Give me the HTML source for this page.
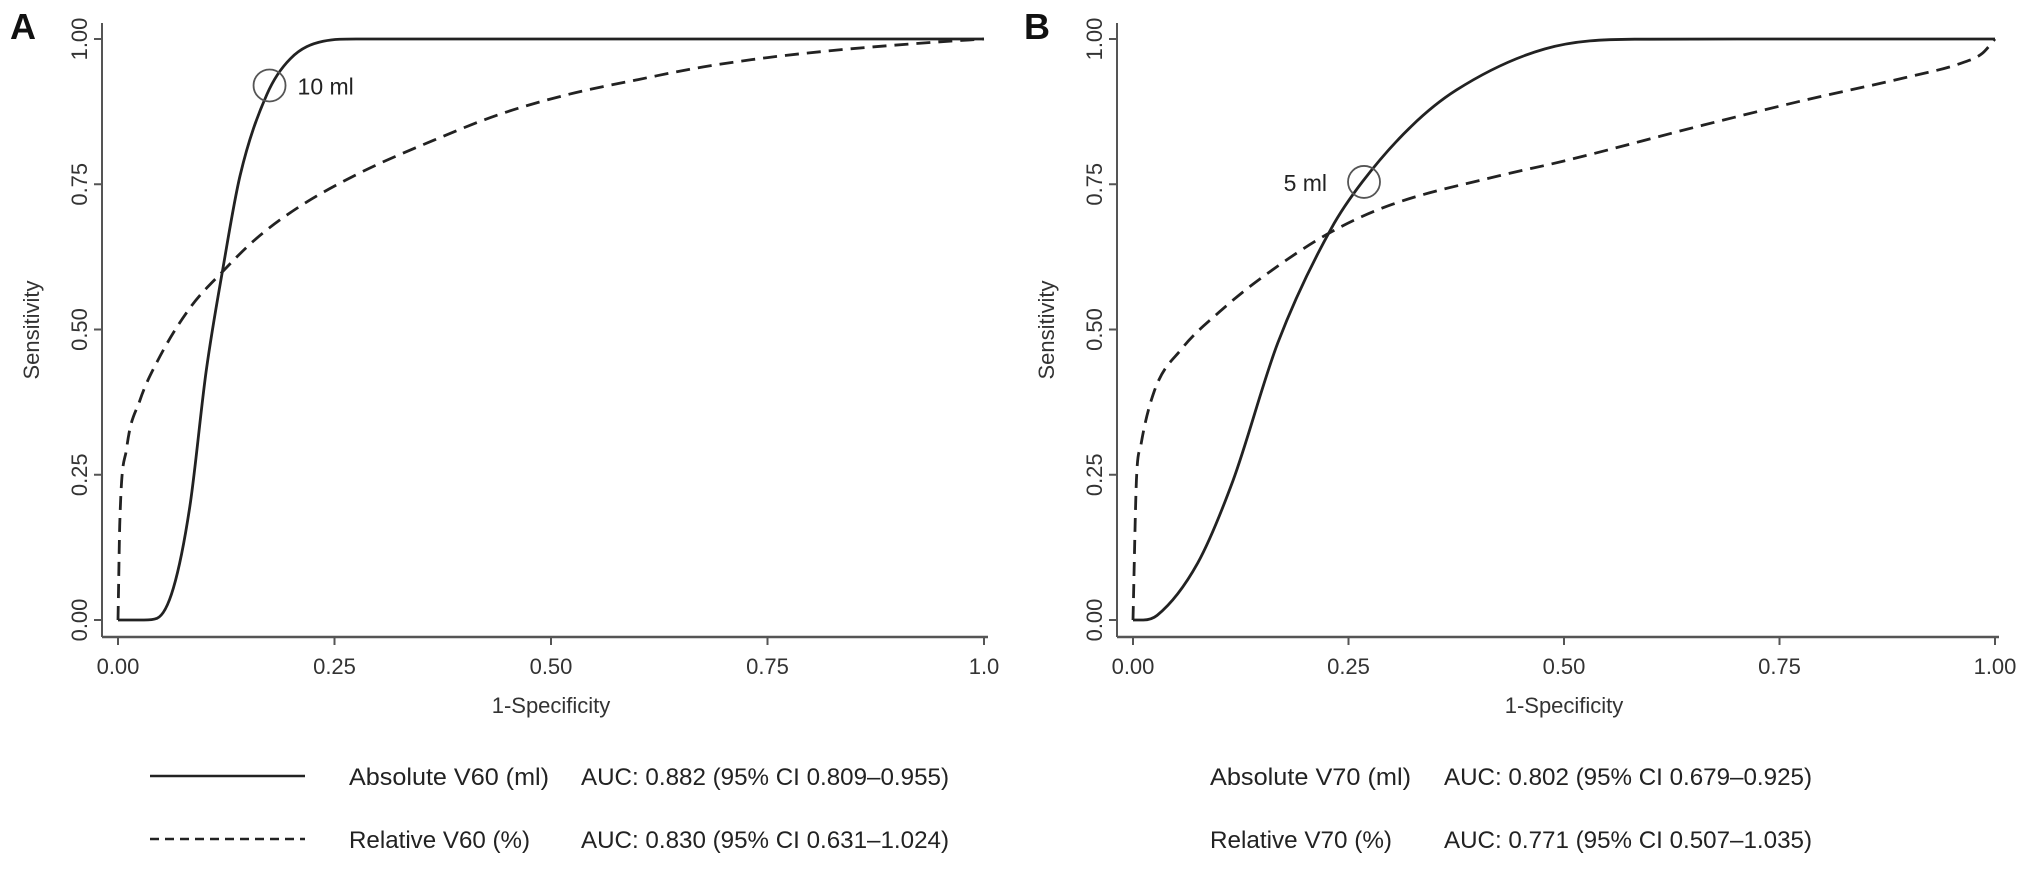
<!DOCTYPE html>
<html><head><meta charset="utf-8"><style>
html,body{margin:0;padding:0;background:#fff;}
svg{display:block;font-family:"Liberation Sans",Arial,sans-serif;}
</style></head><body>
<svg id="chart" width="2031" height="870" viewBox="0 0 2031 870" xmlns="http://www.w3.org/2000/svg">
<text x="10" y="39" font-size="36" font-weight="bold" fill="#111">A</text>
<text x="1024" y="39" font-size="36" font-weight="bold" fill="#111">B</text>
<g id="panelA"></g>
<g id="panelB"></g>
<g>
<line x1="150" y1="776" x2="305" y2="776" stroke="#222" stroke-width="2.5"/>
<line x1="150" y1="839" x2="305" y2="839" stroke="#222" stroke-width="2.5" stroke-dasharray="9,6"/>
<text x="349" y="785" font-size="24" fill="#222" textLength="200" lengthAdjust="spacingAndGlyphs">Absolute V60 (ml)</text>
<text x="581" y="785" font-size="24" fill="#222" textLength="368" lengthAdjust="spacingAndGlyphs">AUC: 0.882 (95% CI 0.809–0.955)</text>
<text x="349" y="848" font-size="24" fill="#222" textLength="181" lengthAdjust="spacingAndGlyphs">Relative V60 (%)</text>
<text x="581" y="848" font-size="24" fill="#222" textLength="368" lengthAdjust="spacingAndGlyphs">AUC: 0.830 (95% CI 0.631–1.024)</text>
</g>
<g>
<text x="1210" y="785" font-size="24" fill="#222" textLength="201" lengthAdjust="spacingAndGlyphs">Absolute V70 (ml)</text>
<text x="1444" y="785" font-size="24" fill="#222" textLength="368" lengthAdjust="spacingAndGlyphs">AUC: 0.802 (95% CI 0.679–0.925)</text>
<text x="1210" y="848" font-size="24" fill="#222" textLength="182" lengthAdjust="spacingAndGlyphs">Relative V70 (%)</text>
<text x="1444" y="848" font-size="24" fill="#222" textLength="368" lengthAdjust="spacingAndGlyphs">AUC: 0.771 (95% CI 0.507–1.035)</text>
</g>
</svg>
<script>
const xTicks = [0, 0.25, 0.5, 0.75, 1];
const xTickLabelsA = ["0.00", "0.25", "0.50", "0.75", "1.0"];
const xTickLabelsB = ["0.00", "0.25", "0.50", "0.75", "1.00"];
const yTicks = [0, 0.25, 0.5, 0.75, 1];
const yTickLabels = ["0.00", "0.25", "0.50", "0.75", "1.00"];
const absA_x = [0, 0.03, 0.045, 0.064, 0.083, 0.102, 0.121, 0.141, 0.172, 0.199, 0.237, 0.275, 0.5, 1];
const absA_y = [0, 0, 0.003, 0.055, 0.196, 0.43, 0.604, 0.765, 0.905, 0.966, 0.996, 1, 1, 1];
const relA_x = [0, 0.002, 0.01, 0.025, 0.045, 0.083, 0.121, 0.16, 0.21, 0.28, 0.365, 0.44, 0.521, 0.6, 0.676, 0.75, 0.831, 0.92, 1];
const relA_y = [0, 0.162, 0.296, 0.377, 0.444, 0.537, 0.6, 0.657, 0.712, 0.77, 0.826, 0.87, 0.905, 0.93, 0.952, 0.968, 0.981, 0.992, 1];
const absB_x = [0, 0.012, 0.028, 0.075, 0.116, 0.168, 0.23, 0.266, 0.323, 0.375, 0.478, 0.582, 0.7, 1];
const absB_y = [0, 0, 0.008, 0.098, 0.24, 0.477, 0.674, 0.754, 0.85, 0.912, 0.983, 0.9996, 1, 1];
const relB_x = [0, 0.004, 0.009, 0.025, 0.056, 0.1, 0.15, 0.23, 0.3, 0.426, 0.5, 0.662, 0.78, 0.9, 0.96, 0.985, 1];
const relB_y = [0, 0.24, 0.30, 0.395, 0.466, 0.53, 0.59, 0.668, 0.715, 0.765, 0.79, 0.852, 0.895, 0.935, 0.958, 0.975, 1];
const cutA = [0.175, 0.92];
const cutB = [0.268, 0.754];

const NS = "http://www.w3.org/2000/svg";
function mk(parent, tag, attrs) {
  const e = document.createElementNS(NS, tag);
  for (const k in attrs) e.setAttribute(k, attrs[k]);
  parent.appendChild(e);
  return e;
}
function smoothPath(px, py) {
  const n = px.length;
  const d = [], m = new Array(n).fill(0);
  for (let i = 0; i < n - 1; i++) d.push((py[i+1] - py[i]) / ((px[i+1] - px[i]) || 1e-9));
  m[0] = d[0]; m[n-1] = d[n-2];
  for (let i = 1; i < n - 1; i++) m[i] = (d[i-1] * d[i] <= 0) ? 0 : (d[i-1] + d[i]) / 2;
  for (let i = 0; i < n - 1; i++) {
    if (d[i] === 0) { m[i] = 0; m[i+1] = 0; continue; }
    const a = m[i] / d[i], b = m[i+1] / d[i], s = a*a + b*b;
    if (s > 9) { const t = 3 / Math.sqrt(s); m[i] = t*a*d[i]; m[i+1] = t*b*d[i]; }
  }
  let p = "M" + px[0].toFixed(1) + "," + py[0].toFixed(1);
  for (let i = 0; i < n - 1; i++) {
    const h = (px[i+1] - px[i]) / 3;
    p += "C" + (px[i]+h).toFixed(1) + "," + (py[i]+m[i]*h).toFixed(1) + " " +
         (px[i+1]-h).toFixed(1) + "," + (py[i+1]-m[i+1]*h).toFixed(1) + " " +
         px[i+1].toFixed(1) + "," + py[i+1].toFixed(1);
  }
  return p;
}
function drawPanel(g, x0, unitX, ticksLab, abs_x, abs_y, rel_x, rel_y, cut, cutLabel, labelLeft) {
  const y0 = 620, unitY = 581, axisY = 637, axisX = x0 - 16;
  const sx = v => x0 + v * unitX;
  const sy = v => y0 - v * unitY;
  let e;
  e = mk(g, "line", {x1: axisX, y1: 23, x2: axisX, y2: axisY, stroke: "#555", "stroke-width": 2});
  
  
  e = mk(g, "line", {x1: axisX, y1: axisY, x2: sx(1) + 4, y2: axisY, stroke: "#555", "stroke-width": 2.5});
  
  
  xTicks.forEach((v, i) => {
    const t = mk(g, "line", {x1: sx(v), y1: axisY, x2: sx(v), y2: axisY + 8, stroke: "#555", "stroke-width": 2});
    
    
    const l = mk(g, "text", {x: sx(v), y: 674, "font-size": 22, fill: "#333", "text-anchor": "middle"});
    l.textContent = ticksLab[i];
    
    
  });
  yTicks.forEach((v, i) => {
    const t = mk(g, "line", {x1: axisX - 8, y1: sy(v), x2: axisX, y2: sy(v), stroke: "#555", "stroke-width": 2});
    
    
    const lx = axisX - 15;
    const l = mk(g, "text", {x: lx, y: sy(v), "font-size": 22, fill: "#333", "text-anchor": "middle", transform: `rotate(-90 ${lx} ${sy(v)})`});
    l.textContent = yTickLabels[i];
    
    
  });
  e = mk(g, "text", {x: sx(0.5), y: 713, "font-size": 22, fill: "#333", "text-anchor": "middle"});
  e.textContent = "1-Specificity";
  
  
  const tx = axisX - 63;
  e = mk(g, "text", {x: tx, y: 330, "font-size": 22, fill: "#333", "text-anchor": "middle", transform: `rotate(-90 ${tx} 330)`});
  e.textContent = "Sensitivity";
  
  
  e = mk(g, "path", {d: smoothPath(rel_x.map(sx), rel_y.map(sy)), fill: "none", stroke: "#222", "stroke-width": 2.8, "stroke-dasharray": "14,8", "stroke-linejoin": "round"});
  
  
  e = mk(g, "path", {d: smoothPath(abs_x.map(sx), abs_y.map(sy)), fill: "none", stroke: "#222", "stroke-width": 2.8, "stroke-linejoin": "round"});
  
  
  e = mk(g, "circle", {cx: sx(cut[0]), cy: sy(cut[1]), r: 16, fill: "none", stroke: "#555", "stroke-width": 1.8});
  
  
  e = mk(g, "text", {x: labelLeft ? sx(cut[0]) - 37 : sx(cut[0]) + 28, y: sy(cut[1]) + 9, "font-size": 23, fill: "#222", "text-anchor": labelLeft ? "end" : "start"});
  e.textContent = cutLabel;
  
  
}
drawPanel(document.getElementById("panelA"), 118, 866, xTickLabelsA, absA_x, absA_y, relA_x, relA_y, cutA, "10 ml", false);
drawPanel(document.getElementById("panelB"), 1133, 862, xTickLabelsB, absB_x, absB_y, relB_x, relB_y, cutB, "5 ml", true);
</script>
</body></html>
